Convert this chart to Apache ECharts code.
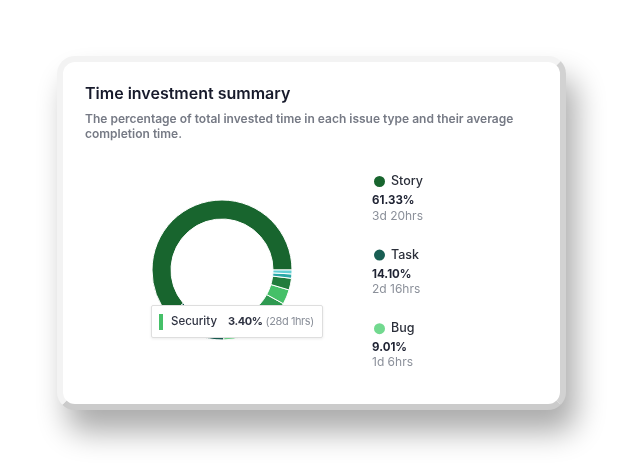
<!DOCTYPE html>
<html>
<head>
<meta charset="utf-8">
<script src="https://cdn.jsdelivr.net/npm/echarts@6/dist/echarts.min.js"></script>
<style>
    html, body { margin: 0; padding: 0; background: #fff; width: 624px; height: 468px; overflow: hidden; }
    .frame {
        position: absolute; left: 57px; top: 56px; width: 497px; height: 342px;
        border: 6px solid #f3f3f3; border-right-color: #d2d2d2; border-bottom-color: #cbcbcb;
        border-radius: 18px; background: #fff;
        box-shadow: 10px 22px 30px rgba(0, 0, 0, 0.33);
    }
    #chart { position: absolute; left: 0; top: 0; width: 624px; height: 468px; }
</style>
</head>
<body>
<div class="frame"></div>
<div id="chart"></div>
<script>
// issue types, share of invested time (%), average completion time
const issueTypes = ['Story', 'Task', 'Bug', 'Improvement', 'Security', 'Support', 'Spike', 'Sub-task'];
const timeShare = [61.33, 14.10, 9.01, 7.56, 3.40, 2.70, 1.00, 0.90];
const avgTime = ['3d 20hrs', '2d 16hrs', '1d 6hrs', '4d 2hrs', '28d 1hrs', '2d 3hrs', '5d 1hrs', '1d 2hrs'];
const typeColors = ['#18652e', '#195e53', '#72d98f', '#2f9a51', '#45c068', '#217c3c', '#2aa8a6', '#62cfd3'];
const legendTypes = ['Story', 'Task', 'Bug'];
const tipType = 'Security';

const chart = echarts.init(document.getElementById('chart'), null, { renderer: 'canvas' });

const FONT = 'Inter, "Noto Sans", sans-serif';
const LEGEND_TOP = 174, LEGEND_STEP = 73.3;

const pieData = issueTypes.map((name, i) => ({
    name: name,
    value: timeShare[i],
    itemStyle: { color: typeColors[i] }
}));

// percentage + time under each legend entry
const legendNotes = [];
legendTypes.forEach((name, k) => {
    const i = issueTypes.indexOf(name);
    const top = LEGEND_TOP + k * LEGEND_STEP;
    legendNotes.push({
        type: 'text', left: 372, top: top + 21,
        style: { text: timeShare[i].toFixed(2) + '%', fill: '#1f2333', font: '700 11.5px ' + FONT }
    });
    legendNotes.push({
        type: 'text', left: 372, top: top + 36,
        style: { text: avgTime[i], fill: '#8b909a', font: '400 12px ' + FONT }
    });
});

const option = {
    backgroundColor: 'transparent',
    title: {
        left: 80, top: 81,
        text: 'Time investment summary',
        subtext: 'The percentage of total invested time in each issue type and their average\ncompletion time.',
        itemGap: 10,
        textStyle: { fontFamily: FONT, fontSize: 16, fontWeight: 600, color: '#171a2b' },
        subtextStyle: { fontFamily: FONT, fontSize: 12, fontWeight: 600, color: '#767a85', lineHeight: 15 }
    },
    legend: {
        data: legendTypes,
        orient: 'vertical',
        left: 372, top: LEGEND_TOP,
        icon: 'circle',
        itemWidth: 13, itemHeight: 13,
        itemGap: LEGEND_STEP - 14.7,
        padding: 0,
        selectedMode: false,
        textStyle: { fontFamily: FONT, fontSize: 12.5, fontWeight: 500, color: '#2b2f3a', lineHeight: 13 }
    },
    tooltip: {
        trigger: 'item',
        triggerOn: 'none',
        alwaysShowContent: true,
        position: [151, 305],
        padding: [6, 8, 6, 7],
        borderColor: '#dedede',
        borderWidth: 1,
        borderRadius: 2,
        extraCssText: 'box-shadow: 0 1px 3px rgba(0,0,0,0.08);',
        formatter: function (p) {
            const i = p.dataIndex;
            return '<div style="display:flex;align-items:center;font-family:Inter,sans-serif;white-space:nowrap;line-height:19px;">' +
                '<span style="display:inline-block;width:4px;height:16px;background:' + typeColors[i] + ';margin-right:8px;"></span>' +
                '<span style="font-size:11.5px;font-weight:500;color:#2f3342;margin-right:11px;">' + p.name + '</span>' +
                '<span style="font-size:11px;font-weight:700;color:#2f3342;letter-spacing:-0.4px;">' + timeShare[i].toFixed(2) + '%</span>' +
                '<span style="font-size:11px;color:#8b909a;margin-left:3px;letter-spacing:-0.4px;">(' + avgTime[i] + ')</span>' +
                '</div>';
        }
    },
    graphic: legendNotes,
    series: [{
        type: 'pie',
        center: [222, 270],
        radius: [51, 70],
        startAngle: 0,
        clockwise: false,
        avoidLabelOverlap: false,
        label: { show: false },
        labelLine: { show: false },
        emphasis: { disabled: true },
        itemStyle: { borderColor: '#fff', borderWidth: 1 },
        data: pieData
    }]
};

chart.setOption(option);
chart.dispatchAction({ type: 'showTip', seriesIndex: 0, dataIndex: issueTypes.indexOf(tipType) });
</script>
</body>
</html>
